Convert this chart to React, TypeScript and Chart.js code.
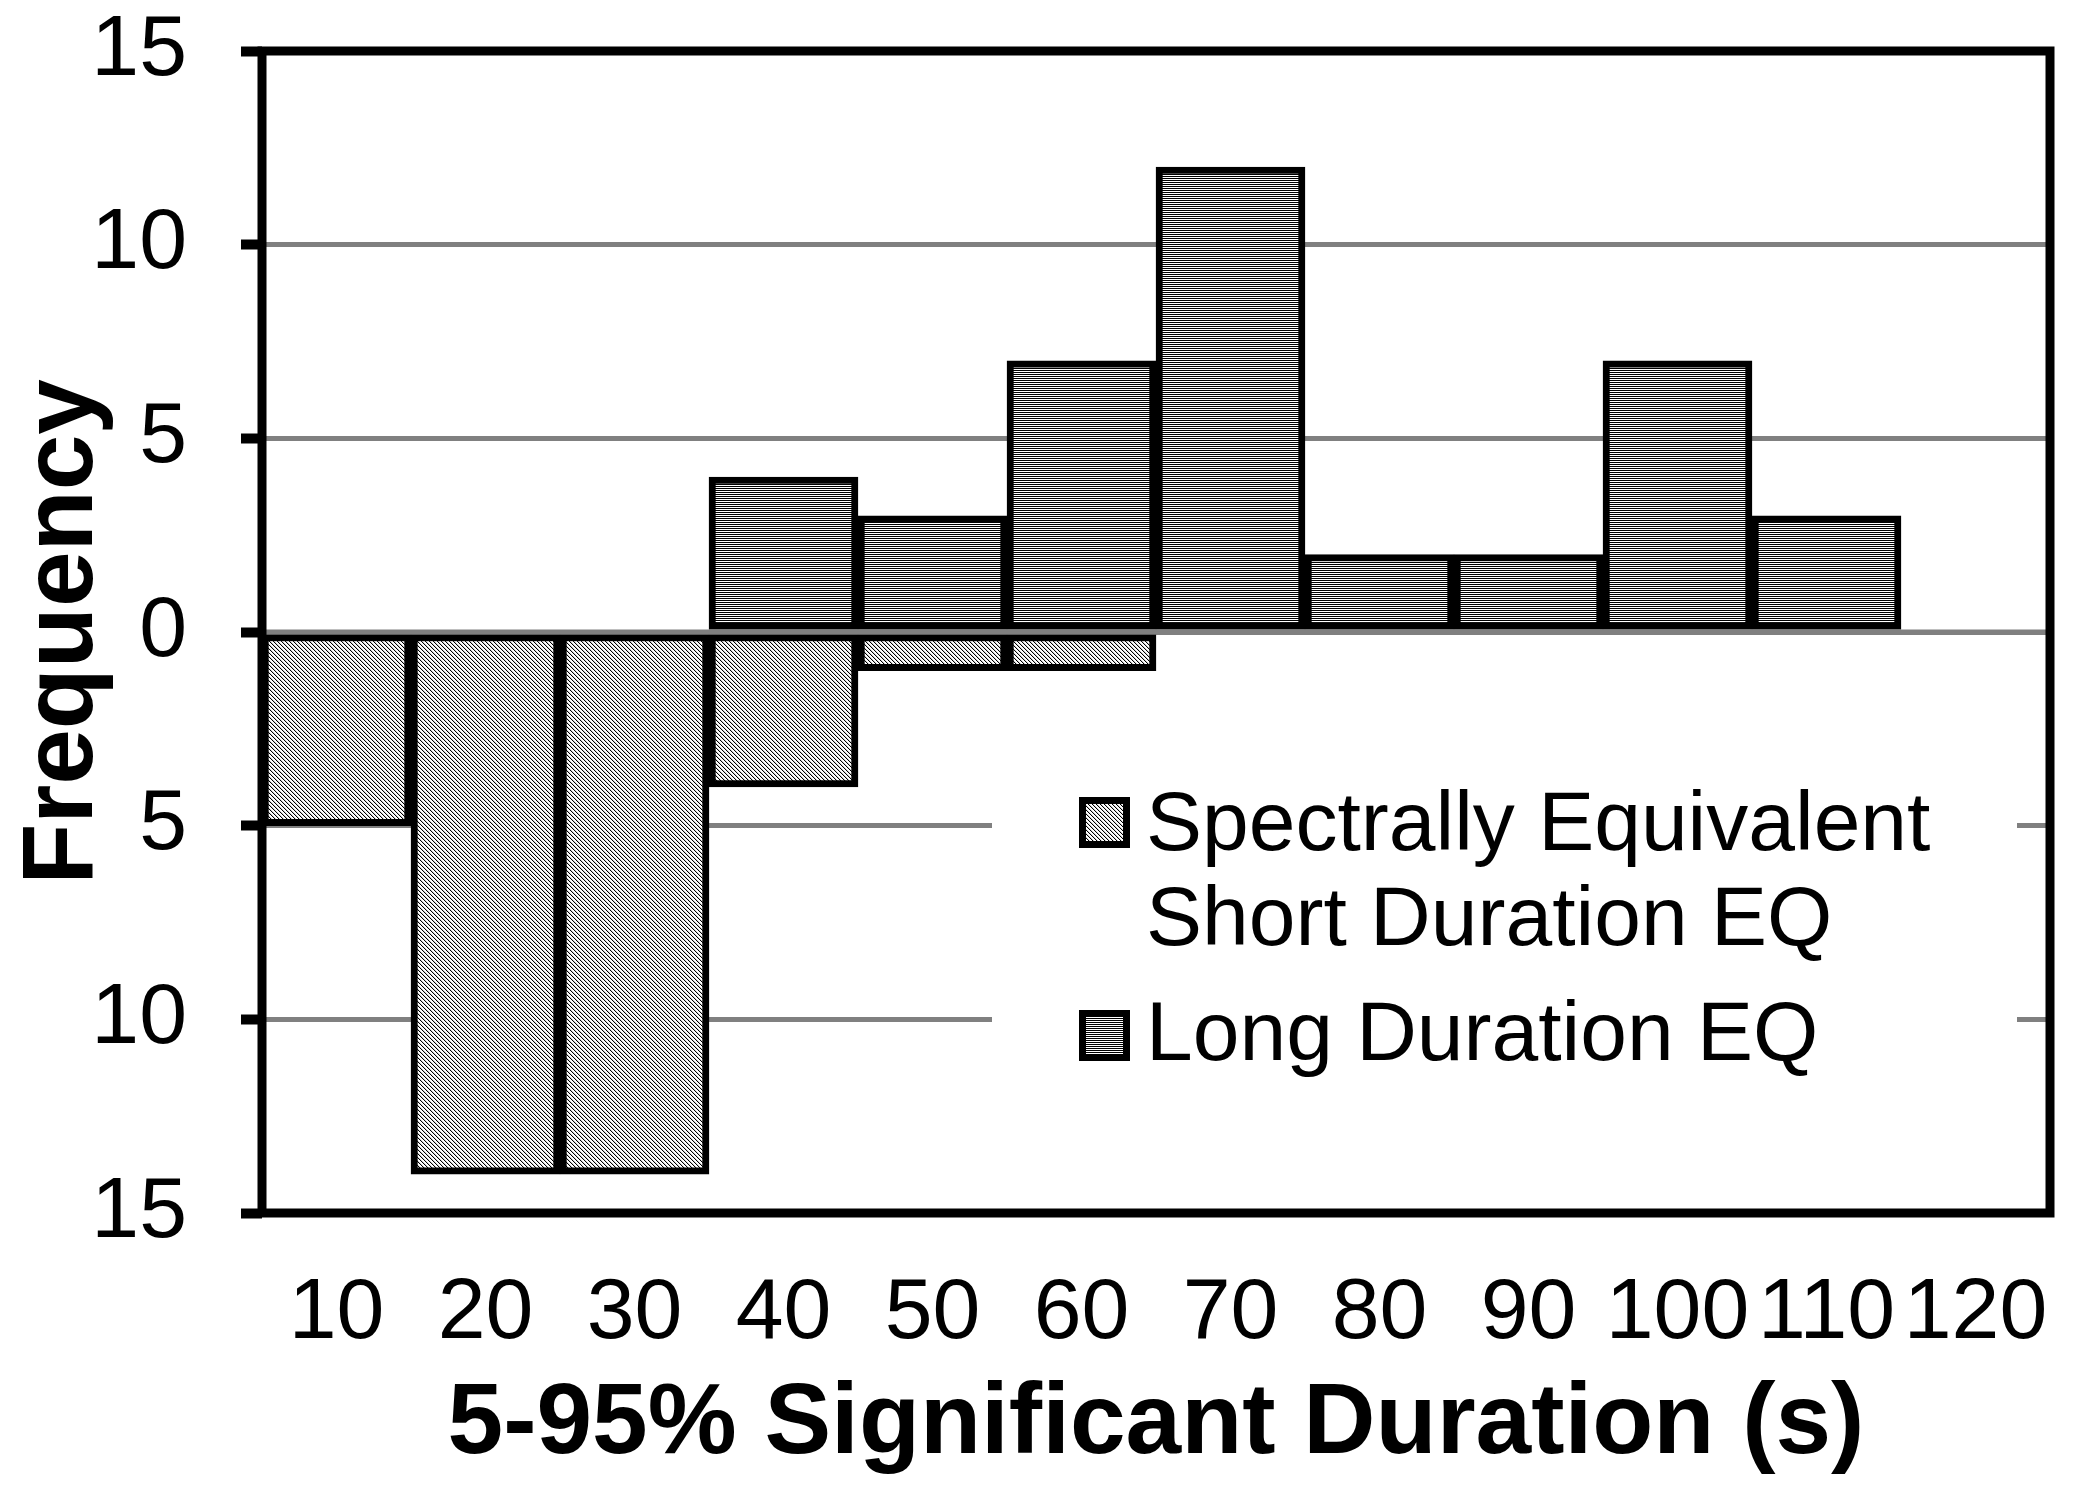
import { useEffect, useRef } from "react"
import { Chart, registerables } from "chart.js"

Chart.register(...registerables)

// Datos
const categories = ["10", "20", "30", "40", "50", "60", "70", "80", "90", "100", "110", "120"]
const shortDuration = [-5, -14, -14, -4, -1, -1, 0, 0, 0, 0, 0, 0]
const longDuration = [0, 0, 0, 4, 3, 7, 12, 2, 2, 7, 3, 0]
const seriesNames = ["Spectrally Equivalent Short Duration EQ", "Long Duration EQ"]
const legendLines = [["Spectrally Equivalent", "Short Duration EQ"], ["Long Duration EQ"]]
const xTitle = "5-95% Significant Duration (s)"
const yTitle = "Frequency"

const FONT = "'Liberation Sans', Arial, Helvetica, sans-serif"

// trama diagonal fina (serie corta)
function diagonalTile() {
    const c = document.createElement("canvas")
    c.width = 4
    c.height = 4
    const g = c.getContext("2d")!
    g.fillStyle = "#ffffff"
    g.fillRect(0, 0, 4, 4)
    for (let i = 0; i < 4; i++) {
        g.fillStyle = "#000000"
        g.fillRect(i, i, 1, 1)
        g.fillStyle = "#d0d0d0"
        g.fillRect((i + 1) % 4, i, 1, 1)
    }
    return c
}

// trama horizontal (serie larga)
function horizontalTile() {
    const c = document.createElement("canvas")
    c.width = 2
    c.height = 2
    const g = c.getContext("2d")!
    g.fillStyle = "#ffffff"
    g.fillRect(0, 0, 2, 2)
    g.fillStyle = "#000000"
    g.fillRect(0, 0, 2, 1)
    return c
}

// Marco, línea del cero y leyenda dentro del área del gráfico
const framePlugin = {
    id: "frameAndLegend",
    afterDatasetsDraw(chart: any) {
        const { ctx, chartArea: ca, scales } = chart
        ctx.save()

        // línea del cero encima de las barras
        const y0 = scales.y.getPixelForValue(0)
        ctx.strokeStyle = "#808080"
        ctx.lineWidth = 5
        ctx.beginPath()
        ctx.moveTo(ca.left, y0)
        ctx.lineTo(ca.right, y0)
        ctx.stroke()

        // leyenda
        const lx = ca.left + 730
        const ly = ca.top + 717
        ctx.fillStyle = "#ffffff"
        ctx.fillRect(lx, ly, 1025, 330)

        ctx.font = `84px ${FONT}`
        ctx.textAlign = "left"
        ctx.textBaseline = "alphabetic"
        const rows = [
            { boxTop: 797, baselines: [850, 945] },
            { boxTop: 1010, baselines: [1060] },
        ]
        chart.data.datasets.forEach((ds: any, i: number) => {
            const r = rows[i]
            ctx.fillStyle = ds.backgroundColor
            ctx.fillRect(1079, r.boxTop, 51, 51)
            ctx.strokeStyle = "#000000"
            ctx.lineWidth = 7
            ctx.strokeRect(1082.5, r.boxTop + 3.5, 44, 44)
            ctx.fillStyle = "#000000"
            legendLines[i].forEach((t, j) => ctx.fillText(t, 1146, r.baselines[j]))
        })

        // marco negro
        ctx.strokeStyle = "#000000"
        ctx.lineWidth = 9
        ctx.strokeRect(ca.left, ca.top, ca.right - ca.left, ca.bottom - ca.top)
        ctx.restore()
    },
}

function HistogramChart() {
    const chartRef = useRef<HTMLCanvasElement>(null)
    const chartInstance = useRef<Chart | null>(null)

    useEffect(() => {
        if (!chartRef.current) return
        if (chartInstance.current) chartInstance.current.destroy()

        const ctx = chartRef.current.getContext("2d")
        if (!ctx) return

        const shortFill = ctx.createPattern(diagonalTile(), "repeat")
        const longFill = ctx.createPattern(horizontalTile(), "repeat")

        chartInstance.current = new Chart(ctx, {
            type: "bar",
            data: {
                labels: categories,
                datasets: [
                    {
                        label: seriesNames[0],
                        data: shortDuration,
                        backgroundColor: shortFill as any,
                        borderColor: "#000000",
                        borderWidth: 7,
                        borderSkipped: false,
                        barPercentage: 1,
                        categoryPercentage: 1,
                    },
                    {
                        label: seriesNames[1],
                        data: longDuration,
                        backgroundColor: longFill as any,
                        borderColor: "#000000",
                        borderWidth: 7,
                        borderSkipped: false,
                        barPercentage: 1,
                        categoryPercentage: 1,
                    },
                ],
            },
            options: {
                animation: false,
                responsive: true,
                maintainAspectRatio: false,
                devicePixelRatio: 1,
                layout: { padding: { top: 51, right: 46, bottom: 0, left: 0 } },
                plugins: {
                    legend: { display: false },
                    tooltip: { enabled: false },
                },
                scales: {
                    x: {
                        stacked: true,
                        grid: { display: false, drawTicks: false },
                        border: { display: false },
                        ticks: {
                            color: "#000000",
                            font: { family: FONT, size: 86 },
                            padding: 50,
                            maxRotation: 0,
                            autoSkip: false,
                        },
                        title: {
                            display: true,
                            text: xTitle,
                            color: "#000000",
                            font: { family: FONT, size: 100, weight: "bold" },
                            padding: { top: 0, bottom: 8 },
                        },
                        afterFit: (s: any) => {
                            s.height = 280
                            s.paddingLeft = 0
                            s.paddingRight = 0
                        },
                    },
                    y: {
                        stacked: true,
                        min: -15,
                        max: 15,
                        grid: {
                            color: "#808080",
                            lineWidth: 5,
                            drawTicks: true,
                            tickLength: 21,
                            tickColor: "#000000",
                            tickWidth: 10,
                        },
                        border: { display: false },
                        ticks: {
                            stepSize: 5,
                            color: "#000000",
                            font: { family: FONT, size: 86 },
                            padding: 54,
                            callback: (v: any) => String(Math.abs(Number(v))),
                        },
                        title: {
                            display: true,
                            text: yTitle,
                            color: "#000000",
                            font: { family: FONT, size: 100, weight: "bold" },
                            padding: { top: 4, bottom: 0 },
                        },
                        afterFit: (s: any) => {
                            s.width = 262
                            s.paddingTop = 0
                            s.paddingBottom = 0
                        },
                    },
                },
            },
            plugins: [framePlugin],
        })

        return () => {
            if (chartInstance.current) {
                chartInstance.current.destroy()
                chartInstance.current = null
            }
        }
    }, [])

    return <canvas ref={chartRef} />
}

export default function App() {
    useEffect(() => {
        document.body.style.margin = "0"
        document.body.style.overflow = "hidden"
        document.body.style.background = "#ffffff"
    }, [])

    return (
        <div style={{ position: "relative", width: 2096, height: 1493, background: "#ffffff" }}>
            <HistogramChart />
        </div>
    )
}
